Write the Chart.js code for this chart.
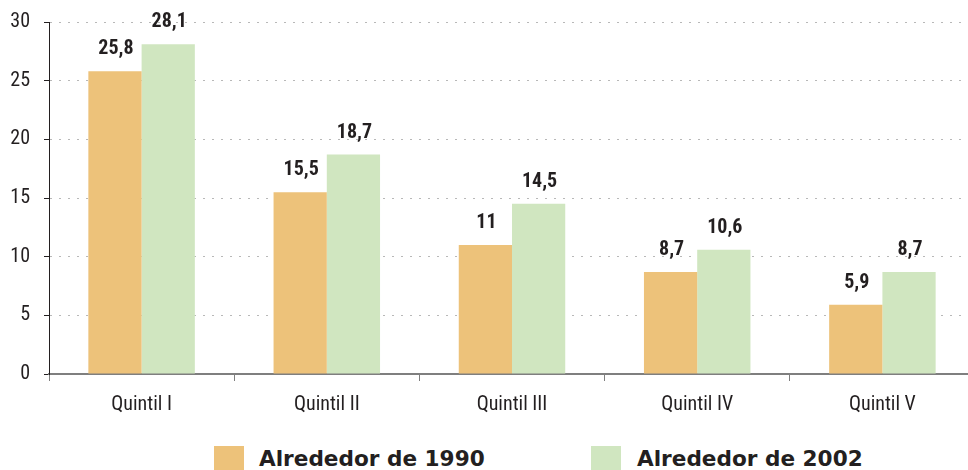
<!DOCTYPE html>
<html>
<head>
<meta charset="utf-8">
<script src="https://cdn.jsdelivr.net/npm/chart.js@4"></script>
<style>
    html, body { margin: 0; padding: 0; background: #fff; overflow: hidden; }
    #wrap { position: absolute; left: 0; top: 0; width: 976px; height: 430px; }
    .leyenda { position: absolute; top: 446px; height: 30px; font: bold 21.6px 'DejaVu Sans', Verdana, sans-serif; color: #231f20; white-space: nowrap; }
    .leyenda span.box { position: absolute; left: 0; top: 0; width: 30px; height: 30px; }
    .leyenda span.txt { position: absolute; top: 0; line-height: 26px; }
</style>
</head>
<body>
<div id="wrap"><canvas id="quintilChart"></canvas></div>
<div id="leyenda"></div>
<script>
// Datos de la gráfica
const categorias = ['Quintil I', 'Quintil II', 'Quintil III', 'Quintil IV', 'Quintil V'];
const serie1990 = [25.8, 15.5, 11, 8.7, 5.9];
const serie2002 = [28.1, 18.7, 14.5, 10.6, 8.7];
const nombresSeries = ['Alrededor de 1990', 'Alrededor de 2002'];
const coloresSeries = ['#EDC27A', '#D0E6C0'];
const ticksY = [0, 5, 10, 15, 20, 25, 30];

const fuente = "'Liberation Sans Narrow', 'Arial Narrow', 'Roboto Condensed', sans-serif";

// Etiquetas de valor encima de cada barra
const etiquetasValor = {
    id: 'etiquetasValor',
    afterDatasetsDraw(chart) {
        const ctx = chart.ctx;
        ctx.save();
        ctx.font = 'bold 20px ' + fuente;
        ctx.fillStyle = '#231f20';
        ctx.textAlign = 'center';
        ctx.textBaseline = 'alphabetic';
        chart.data.datasets.forEach((ds, i) => {
            chart.getDatasetMeta(i).data.forEach((bar, j) => {
                const txt = String(ds.data[j]).replace('.', ',');
                ctx.fillText(txt, bar.x + 1, bar.y - 17);
            });
        });
        ctx.restore();
    }
};

document.addEventListener("DOMContentLoaded", function () {
    const ctx = document.getElementById('quintilChart');

    new Chart(ctx.getContext('2d'), {
        type: 'bar',
        data: {
            labels: categorias,
            datasets: [
                { label: nombresSeries[0], data: serie1990, backgroundColor: coloresSeries[0] },
                { label: nombresSeries[1], data: serie2002, backgroundColor: coloresSeries[1] }
            ]
        },
        options: {
            responsive: true,
            maintainAspectRatio: false,
            animation: false,
            categoryPercentage: 0.575,
            barPercentage: 1,
            layout: { padding: { top: 22, right: 1, left: 0, bottom: 0 } },
            plugins: {
                legend: { display: false },
                tooltip: { enabled: false }
            },
            scales: {
                x: {
                    z: 1,
                    afterFit: (axis) => { axis.height = 56; axis.paddingLeft = 0; axis.paddingRight = 0; },
                    border: { display: true, color: '#7f7f7f', width: 2 },
                    grid: {
                        offset: true,
                        drawOnChartArea: false,
                        drawTicks: true,
                        tickLength: 7,
                        tickColor: '#7f7f7f',
                        tickWidth: 1
                    },
                    ticks: {
                        color: '#231f20',
                        font: { family: fuente, size: 20 },
                        padding: 12
                    }
                },
                y: {
                    min: 0,
                    max: 30,
                    afterBuildTicks: (axis) => { axis.ticks = ticksY.map(v => ({ value: v })); },
                    afterFit: (axis) => { axis.width = 49; axis.paddingTop = 0; axis.paddingBottom = 0; },
                    border: { display: true, color: '#231f20', width: 1, dash: [2, 7] },
                    grid: {
                        color: '#b8b8b8',
                        lineWidth: 1,
                        drawTicks: true,
                        tickLength: 5,
                        tickColor: '#231f20',
                        tickBorderDash: []
                    },
                    ticks: {
                        color: '#231f20',
                        font: { family: fuente, size: 20 },
                        padding: 14
                    }
                }
            }
        },
        plugins: [etiquetasValor]
    });

    // Leyenda inferior
    const leyenda = document.getElementById('leyenda');
    const posiciones = [214, 591];
    nombresSeries.forEach((nombre, i) => {
        const item = document.createElement('div');
        item.className = 'leyenda';
        item.style.left = posiciones[i] + 'px';
        item.innerHTML = '<span class="box" style="background:' + coloresSeries[i] + '"></span>' +
                         '<span class="txt" style="left:' + (i === 0 ? 45 : 46) + 'px">' + nombre + '</span>';
        leyenda.appendChild(item);
    });
});
</script>
</body>
</html>
